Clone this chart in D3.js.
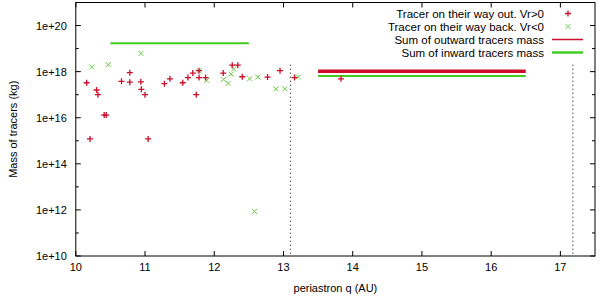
<!DOCTYPE html>
<html><head><meta charset="utf-8">
<script src="https://cdn.jsdelivr.net/npm/d3@7"></script>
<style>body{margin:0;background:#fff}text{font-family:"Liberation Sans",Arial,sans-serif;}</style>
</head><body><svg id="c" width="600" height="297"></svg>
<script>
// Outward tracers (Vr>0): periastron q (AU), mass (kg)
const outQ = [10.157,10.30,10.32,10.41,10.44,10.205,11.045,10.66,10.78,10.78,10.94,10.947,11.0,11.28,11.36,11.545,11.62,11.69,11.74,11.78,11.78,11.875,12.13,12.26,12.34,12.405,12.77,12.95,13.16,13.83];
const outM = [3.3e17,1.6e17,1.0e17,1.3e16,1.3e16,1.2e15,1.2e15,3.8e17,9e17,3.5e17,3.6e17,1.7e17,1.0e17,3.0e17,4.9e17,3.3e17,5.5e17,8.7e17,1.0e17,1.1e18,5.5e17,5.5e17,8.7e17,1.9e18,1.9e18,6e17,5.8e17,1.1e18,5.5e17,4.9e17];
// Inward tracers (Vr<0)
const inQ = [10.23,10.47,10.94,11.78,11.89,12.135,12.2,12.245,12.28,12.51,12.63,12.89,13.02,13.215,12.58];
const inM = [1.6e18,2.0e18,6.2e18,1.1e18,4.2e17,4.6e17,3.1e17,7.8e17,1.3e18,4.9e17,5.8e17,1.8e17,1.8e17,5.8e17,8.6e11];
// Sum lines
const sumOut = [{q0:13.5,q1:16.5,m:1.05e18}];
const sumIn = [{q0:10.5,q1:12.5,m:1.7e19},{q0:13.5,q1:16.5,m:6.5e17}];
// Dotted vertical markers
const markQ = [13.1,17.18];
const markTop = 2e18;
const xTicks = [10,11,12,13,14,15,16,17];
const yExpMajor = [10,12,14,16,18,20];
const yExpMinor = [11,13,15,17,19];
const legendLabels = ["Tracer on their way out. Vr>0","Tracer on their way back. Vr<0","Sum of outward tracers mass","Sum of inward tracers mass"];

const RED = "#cc0e2a", GREEN = "#44cc22", GREENPT = "#66cc44";
const svg = d3.select("#c");
const L = 75.8, R = 595, T = 2.5, B = 256;
const x = d3.scaleLinear().domain([10,17.5]).range([L,R]);
const y = d3.scaleLog().domain([1e10,1e21]).range([B,T]);

const g = svg.append("g");
// frame
g.append("rect").attr("x",L).attr("y",T).attr("width",R-L).attr("height",B-T).attr("fill","none").attr("stroke","#000").attr("stroke-width",1);
// x ticks
xTicks.forEach(v=>{
  g.append("line").attr("x1",x(v)).attr("x2",x(v)).attr("y1",B).attr("y2",B-5).attr("stroke","#000");
  g.append("line").attr("x1",x(v)).attr("x2",x(v)).attr("y1",T).attr("y2",T+5).attr("stroke","#000");
  g.append("text").attr("x",x(v)).attr("y",B+15).attr("text-anchor","middle").attr("font-size",11).text(v);
});
yExpMajor.forEach(e=>{
  const yy=y(Math.pow(10,e));
  g.append("line").attr("x1",L).attr("x2",L+5).attr("y1",yy).attr("y2",yy).attr("stroke","#000");
  g.append("line").attr("x1",R).attr("x2",R-5).attr("y1",yy).attr("y2",yy).attr("stroke","#000");
  g.append("text").attr("x",L-9).attr("y",yy+4).attr("text-anchor","end").attr("font-size",11).text("1e+"+e);
});
yExpMinor.forEach(e=>{
  const yy=y(Math.pow(10,e));
  g.append("line").attr("x1",L).attr("x2",L+3).attr("y1",yy).attr("y2",yy).attr("stroke","#000");
  g.append("line").attr("x1",R).attr("x2",R-3).attr("y1",yy).attr("y2",yy).attr("stroke","#000");
});
// axis titles
g.append("text").attr("x",(L+R)/2).attr("y",292).attr("text-anchor","middle").attr("font-size",11).text("periastron q (AU)");
g.append("text").attr("transform","translate(17,"+((T+B)/2)+") rotate(-90)").attr("text-anchor","middle").attr("font-size",11).text("Mass of tracers (kg)");

// dotted verticals
markQ.forEach(q=>{
  g.append("line").attr("x1",x(q)).attr("x2",x(q)).attr("y1",y(markTop)).attr("y2",B).attr("stroke","#000").attr("stroke-width",1).attr("stroke-dasharray","1,3");
});
// sum lines
sumOut.forEach(s=>g.append("line").attr("x1",x(s.q0)).attr("x2",x(s.q1)).attr("y1",y(s.m)).attr("y2",y(s.m)).attr("stroke",RED).attr("stroke-width",3.5));
sumIn.forEach(s=>g.append("line").attr("x1",x(s.q0)).attr("x2",x(s.q1)).attr("y1",y(s.m)).attr("y2",y(s.m)).attr("stroke",GREEN).attr("stroke-width",2));

// points
function plus(cx,cy,col){
  g.append("path").attr("d",`M${cx-3},${cy}H${cx+3}M${cx},${cy-3}V${cy+3}`).attr("stroke",col).attr("stroke-width",1.3).attr("fill","none");
}
function cross(cx,cy,col){
  g.append("path").attr("d",`M${cx-2.5},${cy-2.5}L${cx+2.5},${cy+2.5}M${cx-2.5},${cy+2.5}L${cx+2.5},${cy-2.5}`).attr("stroke",col).attr("stroke-width",1).attr("fill","none");
}
inQ.forEach((q,i)=>cross(x(q),y(inM[i]),GREENPT));
outQ.forEach((q,i)=>plus(x(q),y(outM[i]),RED));

// legend
const ly=[13.5,26.5,39.5,52.5];
legendLabels.forEach((t,i)=>{
  g.append("text").attr("x",544).attr("y",ly[i]+4).attr("text-anchor","end").attr("font-size",11.5).text(t);
});
plus(568,ly[0],RED);
cross(568,ly[1],GREENPT);
g.append("line").attr("x1",552).attr("x2",583).attr("y1",ly[2]).attr("y2",ly[2]).attr("stroke",RED).attr("stroke-width",1.5);
g.append("line").attr("x1",552).attr("x2",583).attr("y1",ly[3]).attr("y2",ly[3]).attr("stroke",GREEN).attr("stroke-width",2.5);
</script></body></html>
